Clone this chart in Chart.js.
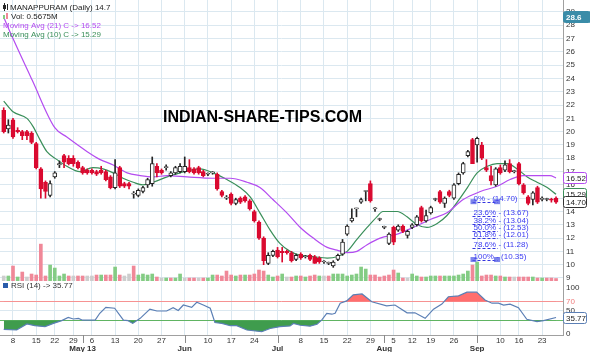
<!DOCTYPE html>
<html>
<head>
<meta charset="utf-8">
<title>MANAPPURAM daily</title>
<script src="https://cdn.jsdelivr.net/npm/chart.js@4.4.1/dist/chart.umd.min.js"></script>
<style>
  html, body { margin: 0; padding: 0; background: #fff; }
  #wrap { position: relative; width: 590px; height: 352px; overflow: hidden; }
  #priceChart { position: absolute; left: 0; top: 0; }
  #rsiChart { position: absolute; left: 0; top: 281px; }
</style>
</head>
<body>
<div id="wrap">
  <canvas id="priceChart" width="590" height="281"></canvas>
  <canvas id="rsiChart" width="590" height="71"></canvas>
</div>
<script>
// ---- data ----
var firstDay = '2013-04-04', lastDay = '2013-09-26';
var holidays = ['2013-04-19', '2013-04-24', '2013-05-01', '2013-08-09', '2013-08-15', '2013-09-09'];
var monthNames = ['Jan','Feb','Mar','Apr','May','Jun','Jul','Aug','Sep','Oct','Nov','Dec'];

var open = [21.6,20.2,20.9,20.1,20.0,20.0,19.9,19.1,17.2,16.2,
  15.2,16.6,17.5,18.2,18.0,18.0,17.7,17.3,17.1,17.1,
  17.0,17.1,17.0,16.6,15.8,17.3,16.1,16.1,15.3,15.2,
  15.5,16.0,16.1,17.4,17.1,17.3,16.7,16.9,17.0,17.0,
  17.3,17.2,17.3,17.0,16.8,16.9,16.8,15.5,15.0,15.3,
  14.6,15.0,15.1,14.8,14.0,13.2,12.0,10.1,10.7,11.1,
  11.0,11.0,10.9,10.4,10.8,10.6,10.7,10.6,10.5,10.2,
  10.1,9.9,10.4,10.8,12.3,13.3,14.2,14.7,15.5,16.1,
  14.2,13.4,12.8,11.6,12.8,12.6,12.9,12.2,12.8,13.0,
  14.3,13.3,13.9,14.9,15.5,14.6,15.5,15.0,16.1,16.9,
  18.2,19.4,19.0,19.0,17.3,16.7,16.0,17.3,17.1,17.6,
  17.0,17.6,16.0,15.1,14.9,15.8,14.9,14.9,14.9,15.0];
var high = [21.8,20.9,21.0,20.3,20.1,20.1,20.0,19.2,17.3,16.3,
  16.3,17.0,17.8,18.3,18.2,18.2,17.8,17.4,17.2,17.2,
  17.1,17.4,17.1,16.7,17.9,17.4,16.2,16.2,15.5,15.7,
  15.9,16.5,18.1,17.6,17.2,17.5,17.0,17.4,17.6,18.1,
  17.9,17.3,17.4,17.1,16.9,17.0,16.9,15.6,15.2,15.4,
  15.0,15.1,15.2,14.9,14.1,13.3,12.1,10.9,11.1,11.3,
  11.3,11.1,11.0,10.8,10.9,10.7,10.8,10.7,10.6,10.3,
  10.2,10.3,10.8,11.9,13.0,14.2,14.25,15.0,15.55,16.3,
  14.3,13.5,12.9,12.4,12.9,13.0,13.0,12.6,13.1,13.7,
  14.4,14.1,14.4,15.0,15.6,15.1,15.6,16.1,16.9,17.7,
  18.6,19.5,19.6,19.2,17.9,17.4,17.3,17.5,17.8,17.9,
  17.1,17.7,16.1,15.2,15.5,15.9,15.1,15.0,15.0,15.1];
var low = [19.9,19.9,19.5,19.9,19.4,19.4,19.1,17.2,15.0,15.0,
  15.1,16.5,17.3,17.3,17.5,17.4,17.2,16.8,16.8,16.8,
  16.7,16.8,16.3,15.7,15.7,15.8,15.8,15.7,15.0,15.1,
  15.4,15.8,15.9,16.6,16.8,17.1,16.6,16.8,16.9,16.9,
  16.9,16.8,16.8,16.6,16.7,16.8,15.6,15.1,14.9,14.5,
  14.5,14.6,14.7,14.1,13.2,11.9,10.0,10.0,10.6,10.5,
  10.2,10.8,10.2,10.3,10.4,10.5,10.3,10.1,10.1,10.1,
  10.0,9.8,10.3,10.7,12.2,13.2,13.6,14.6,14.8,14.7,
  14.0,13.3,12.7,11.5,11.5,12.5,12.4,12.0,12.7,12.9,
  13.2,13.2,13.8,14.8,14.6,14.3,15.1,14.9,16.0,16.8,
  18.1,17.6,17.7,17.9,17.0,16.0,15.9,16.8,17.0,16.9,
  16.9,16.0,15.3,14.5,14.5,14.6,14.8,14.8,14.7,14.6];
var close = [20.0,20.5,19.6,20.0,19.7,19.7,19.2,17.3,15.7,15.5,
  16.1,16.9,17.6,17.7,17.6,17.6,17.3,16.9,16.9,16.9,
  16.8,16.9,16.4,15.8,16.9,15.9,15.9,15.9,15.3,15.6,
  15.8,16.4,17.6,16.9,16.9,17.3,16.9,17.3,17.4,17.4,
  17.0,16.9,16.9,16.7,16.8,16.9,15.7,15.2,15.0,14.6,
  14.9,14.7,14.8,14.2,13.3,12.0,10.3,10.7,11.0,10.6,
  10.9,10.9,10.3,10.7,10.5,10.6,10.4,10.1,10.2,10.2,
  10.1,10.2,10.7,11.7,12.9,13.5,14.2,14.9,15.5,14.8,
  14.2,13.4,12.8,12.3,11.7,12.9,12.5,12.5,13.0,13.6,
  13.3,13.7,14.3,14.9,14.7,15.0,15.2,16.0,16.8,17.6,
  18.5,17.6,19.5,18.0,17.1,16.3,17.2,16.9,17.5,17.0,
  17.0,16.1,15.4,14.6,15.4,14.7,15.0,14.9,14.85,14.7];
// volume, millions
var volume = [1.14,1.14,3.41,0.91,2.04,0.91,1.59,1.36,8.40,1.14,
  3.63,2.95,1.14,1.59,1.14,1.14,1.14,1.14,1.14,1.14,
  1.36,1.36,1.36,1.36,3.18,1.36,1.14,1.59,3.41,1.36,
  1.59,1.36,1.59,0.91,0.68,0.68,0.68,0.68,1.59,0.68,
  0.68,0.68,0.68,0.68,0.68,1.36,1.36,1.14,2.27,1.36,
  1.14,1.36,1.36,1.36,1.59,2.50,2.27,1.36,0.91,1.14,
  1.59,0.91,0.91,1.14,1.14,0.91,1.14,1.36,1.14,1.14,
  1.14,1.59,1.59,1.59,1.14,1.36,1.59,3.18,2.72,1.36,
  1.36,0.91,1.14,1.36,2.50,1.82,0.68,0.68,1.59,1.14,
  0.91,0.91,1.14,1.14,1.14,1.14,1.14,1.14,1.36,1.59,
  2.27,3.63,4.31,1.14,1.36,1.36,1.14,1.14,0.91,0.91,
  0.91,0.91,0.91,0.91,0.91,0.68,0.68,0.68,0.68,0.5675];

// [day index, value]
var ma21 = [[0,28.6],[2,27.0],[6.1,23.9],[11,20.3],[13.6,19.6],[18,18.5],[20.8,17.9],[23.6,17.5],
  [26.6,16.9],[29.4,16.7],[32.2,16.6],[35.2,16.7],[39.5,16.6],[45,16.5],[48.8,16.5],[52.4,16.2],
  [55.2,15.8],[58,14.9],[61,13.9],[63.9,12.8],[66.7,12.0],[69.7,11.3],[71.8,11.1],[74,10.9],
  [76.1,11.0],[78.3,11.5],[81.1,12.0],[84.8,12.3],[88.2,12.8],[91.9,13.4],[95.5,13.9],[99,14.9],
  [102.7,15.5],[106.3,15.9],[109.1,16.4],[111.9,16.7],[114.9,16.7],[117.7,16.7],[119,16.52]];
var ma10 = [[0,22.3],[2,21.5],[5,21.0],[6.3,20.4],[7.8,19.4],[9.3,18.5],[11.5,17.9],[13.6,17.4],
  [16.4,17.0],[19.2,17.3],[21.4,17.2],[23.6,16.9],[25.7,16.5],[27.9,16.2],[30,16.0],[32.2,16.2],
  [35.2,16.6],[38,16.9],[40.2,17.1],[42.3,17.2],[45.1,16.9],[48.1,16.4],[50.9,15.8],[53.1,15.1],
  [55.2,13.9],[57.4,12.6],[59.5,11.6],[61.7,11.0],[63.9,10.7],[66.7,10.6],[69.7,10.5],[71.8,10.6],
  [74,11.0],[76.1,11.9],[78.3,12.8],[80.4,13.6],[81.7,14.0],[84.8,14.0],[86.9,13.6],[89.1,13.0],
  [91.2,12.8],[93.4,13.1],[95.5,13.7],[97.7,14.7],[99.9,15.8],[102,16.9],[104.2,17.4],[106.3,17.6],
  [108.5,17.6],[110.6,17.2],[112.8,16.6],[114.9,16.2],[117.1,15.8],[119,15.29]];
var rsi14 = [[0,10],[2.8,8.7],[5,21.7],[6.7,18],[8.9,16],[10.7,23],[12.5,29],[13.9,36],[15,32.6],
  [16.1,34],[17,30],[19.7,30],[20.7,45],[22,58],[23.9,56],[25.8,30],[26.8,29],[27.8,23],[29.4,34],
  [31.5,54],[33,50],[35.1,50],[36.5,57],[37.6,51],[38.7,63],[40.5,58],[41.6,69],[43,63],[44.5,56],
  [45.5,25],[47,23],[48.8,18],[50.2,18],[52.4,8.7],[55.6,5],[57.4,12],[59.5,16],[61.7,17.5],
  [62.4,23],[63.9,19],[66,17],[67.5,21],[68.5,30],[69.6,45],[70.7,43],[71.4,45],[72.5,67],
  [73.9,72],[75.3,85],[77.2,87],[79.3,70],[82.5,61],[84.3,63],[86.9,46],[88.6,46],[90.8,34],
  [92.6,54],[94.4,65],[95.8,81],[98,83],[99.8,91],[101.9,91],[103.7,74],[105.2,67],[106.6,67],
  [107.7,63],[109.1,65],[110.9,57],[112.7,32],[114.9,27],[116.3,29],[119,35.77]];

var fibNames = ['0%', '23.6%', '38.2%', '50.0%', '61.8%', '78.6%', '100%'];
var fibValues = [14.70, 13.67, 13.04, 12.53, 12.01, 11.28, 10.35];
var fibFrom = 101, fibTo = 106.5;
var topMarker = 28.6;

var priceTicks = [9,10,11,12,13,14,15,16,17,18,19,20,21,22,23,24,25,26,27,28,29];
var rsiTicks = [0, 30, 50, 70, 100];

// ---- trading calendar ----
function tradingDays(from, to, skip) {
  var out = [];
  var d = new Date(from + 'T00:00:00Z'), end = new Date(to + 'T00:00:00Z');
  while (d <= end) {
    var iso = d.toISOString().slice(0, 10), wd = d.getUTCDay();
    if (wd !== 0 && wd !== 6 && skip.indexOf(iso) < 0) out.push(new Date(d));
    d.setUTCDate(d.getUTCDate() + 1);
  }
  return out;
}
var days = tradingDays(firstDay, lastDay, holidays);
var weekTicks = [], monthTicks = [];
days.forEach(function (d, i) {
  if (!i) return;
  var p = days[i - 1];
  if (d.getUTCDay() < p.getUTCDay() || (d - p) > 4 * 864e5) weekTicks.push(i);
  if (d.getUTCMonth() !== p.getUTCMonth()) monthTicks.push(i);
});
var allTicks = weekTicks.concat(monthTicks.filter(function (v) { return weekTicks.indexOf(v) < 0; }))
  .sort(function (a, b) { return a - b; });

// ---- look ----
var FONT = '"Liberation Sans", Arial, sans-serif';
Chart.defaults.font.family = FONT;
Chart.defaults.font.size = 8;
Chart.defaults.color = '#333';
var GRID = '#dbe8f0', AXIS = '#a0a0a0';
var RED = '#da0a30', DARK = '#262626';
var PURPLE = '#b44cf0', GREEN = '#3a8f5a';
var xMin = -0.8, xMax = 120.5;

var candleColor = close.map(function (c, i) { return c < open[i] ? RED : DARK; });
var bodyFill = close.map(function (c, i) { return c < open[i] ? RED : '#fff'; });
var volColor = close.map(function (c, i) {
  if (i === 0 || c === close[i - 1]) return '#cdcdcd';
  return c > close[i - 1] ? '#84cc84' : '#f08898';
});
function pts(a) { return a.map(function (p) { return { x: p[0], y: p[1] }; }); }
function zeroPad(s) { s.paddingTop = 0; s.paddingBottom = 0; s.paddingLeft = 0; s.paddingRight = 0; }

function valueBox(ctx, py, text, stroke, fill, color, w) {
  var y = Math.round(py);
  ctx.beginPath();
  ctx.roundRect(563.5, y - 5.5, w, 11, 2);
  ctx.fillStyle = fill; ctx.fill();
  ctx.strokeStyle = stroke; ctx.lineWidth = 1; ctx.stroke();
  ctx.fillStyle = color;
  ctx.textAlign = 'left'; ctx.textBaseline = 'middle';
  ctx.fillText(text, 566, y + 0.5);
}

var last = close.length - 1;

var priceDecor = {
  id: 'priceDecor',
  beforeDatasetsDraw: function (chart) {
    var ctx = chart.ctx;
    ctx.save();
    ctx.font = 'bold 16px ' + FONT;
    ctx.fillStyle = '#000';
    ctx.textBaseline = 'middle';
    ctx.fillText('INDIAN-SHARE-TIPS.COM', 163, 118);
    ctx.restore();
  },
  afterDraw: function (chart) {
    var ctx = chart.ctx, xs = chart.scales.x, ys = chart.scales.y;
    ctx.save();
    // fibonacci levels
    var x1 = xs.getPixelForValue(fibFrom), x2 = xs.getPixelForValue(fibTo);
    ctx.strokeStyle = '#3434e0'; ctx.lineWidth = 1; ctx.setLineDash([3, 2]);
    fibValues.forEach(function (v) {
      var py = Math.round(ys.getPixelForValue(v)) + 0.5;
      ctx.beginPath(); ctx.moveTo(x1, py); ctx.lineTo(x2, py); ctx.stroke();
    });
    ctx.setLineDash([]);
    ctx.fillStyle = 'rgba(80,90,230,0.75)';
    [fibValues[0], fibValues[fibValues.length - 1]].forEach(function (v) {
      var py = ys.getPixelForValue(v);
      ctx.fillRect(x1 - 2, py - 3, 6, 5);
      ctx.fillRect(x2 - 4, py - 3, 6, 5);
    });
    ctx.font = '8px ' + FONT; ctx.fillStyle = '#3b3bf2'; ctx.textBaseline = 'alphabetic'; ctx.textAlign = 'left';
    fibValues.forEach(function (v, k) {
      ctx.fillText(fibNames[k] + ' - (' + v.toFixed(2) + ')', x1 + 1, ys.getPixelForValue(v) - 1);
    });

    // legend
    ctx.fillStyle = DARK;
    ctx.fillRect(4, 3, 1, 8); ctx.fillRect(3, 5, 3, 4); ctx.fillRect(7, 4, 1, 6);
    ctx.fillStyle = '#84cc84'; ctx.fillRect(3, 15, 2, 4);
    ctx.fillStyle = '#f08898'; ctx.fillRect(6, 13, 2, 6);
    ctx.font = '8px ' + FONT; ctx.textBaseline = 'middle';
    ctx.fillStyle = '#222';
    ctx.fillText('MANAPPURAM (Daily) ' + close[last], 10, 7.5);
    ctx.fillText('Vol: ' + volume[last] + 'M', 11, 16.5);
    ctx.fillStyle = PURPLE;
    ctx.fillText('Moving Avg (21) C -> ' + ma21[ma21.length - 1][1].toFixed(2), 3, 26);
    ctx.fillStyle = GREEN;
    ctx.fillText('Moving Avg (10) C -> ' + ma10[ma10.length - 1][1].toFixed(2), 3, 35);

    // axis value tags
    ctx.font = 'bold 8px ' + FONT;
    valueBox(ctx, ys.getPixelForValue(topMarker), topMarker.toFixed(1), '#3a8ca8', '#3a8ca8', '#fff', 27);
    ctx.font = '8px ' + FONT;
    valueBox(ctx, ys.getPixelForValue(ma21[ma21.length - 1][1]), ma21[ma21.length - 1][1].toFixed(2), PURPLE, '#fff', '#222', 23);
    valueBox(ctx, ys.getPixelForValue(ma10[ma10.length - 1][1]), ma10[ma10.length - 1][1].toFixed(2), GREEN, '#fff', '#222', 23);
    valueBox(ctx, ys.getPixelForValue(close[last]), close[last].toFixed(2), '#333', '#fff', '#222', 23);
    ctx.restore();
  }
};

new Chart(document.getElementById('priceChart'), {
  type: 'bar',
  data: {
    datasets: [
      {
        type: 'bar', data: days.map(function (d, i) { return { x: i, y: [open[i], close[i]] }; }),
        backgroundColor: bodyFill, borderColor: candleColor, borderWidth: 1, borderSkipped: false,
        barThickness: 4, minBarLength: 1, grouped: false, order: 1
      },
      {
        type: 'bar', data: days.map(function (d, i) { return { x: i, y: [low[i], high[i]] }; }),
        backgroundColor: candleColor, barThickness: 1, grouped: false, order: 2
      },
      {
        type: 'line', data: pts(ma21), borderColor: PURPLE, borderWidth: 1.2, pointRadius: 0,
        cubicInterpolationMode: 'monotone', order: 3
      },
      {
        type: 'line', data: pts(ma10), borderColor: GREEN, borderWidth: 1.2, pointRadius: 0,
        cubicInterpolationMode: 'monotone', order: 4
      },
      {
        type: 'bar', yAxisID: 'yv', data: days.map(function (d, i) { return { x: i, y: volume[i] }; }),
        backgroundColor: volColor, barThickness: 3, grouped: false, order: 6
      }
    ]
  },
  options: {
    responsive: false, animation: false,
    layout: { padding: 0 },
    plugins: { legend: { display: false }, tooltip: { enabled: false } },
    scales: {
      x: {
        type: 'linear', min: xMin, max: xMax, offset: false,
        afterBuildTicks: function (s) { s.ticks = weekTicks.map(function (v) { return { value: v }; }); },
        ticks: { display: false },
        grid: { color: GRID, drawTicks: false, offset: false },
        border: { display: true, color: AXIS },
        afterFit: function (s) { s.height = 0; zeroPad(s); }
      },
      y: {
        position: 'right', min: 8.774, max: 29.9,
        afterBuildTicks: function (s) { s.ticks = priceTicks.map(function (v) { return { value: v }; }); },
        ticks: { color: '#333', padding: 3, font: { size: 8 } },
        grid: { color: GRID, drawTicks: false },
        border: { color: AXIS },
        afterFit: function (s) { s.width = 27; zeroPad(s); }
      },
      yv: { display: false, min: 0, max: 64 }
    }
  },
  plugins: [priceDecor]
});

var rsiDecor = {
  id: 'rsiDecor',
  afterDraw: function (chart) {
    var ctx = chart.ctx, xs = chart.scales.x, ys = chart.scales.y, a = chart.chartArea;
    ctx.save();
    ctx.strokeStyle = '#8a8a8a'; ctx.lineWidth = 1;
    monthTicks.forEach(function (i) {
      var px = Math.round(xs.getPixelForValue(i)) + 0.5;
      ctx.beginPath(); ctx.moveTo(px, a.bottom); ctx.lineTo(px, a.bottom + 8); ctx.stroke();
    });
    ctx.fillStyle = '#2a5caa'; ctx.fillRect(3, 2, 5, 5);
    ctx.font = '8px ' + FONT; ctx.fillStyle = '#333'; ctx.textBaseline = 'middle'; ctx.textAlign = 'left';
    var lastRsi = rsi14[rsi14.length - 1][1];
    ctx.fillText('RSI (14) -> ' + lastRsi.toFixed(2), 11, 4.5);
    valueBox(ctx, ys.getPixelForValue(lastRsi), lastRsi.toFixed(2), '#5b7fb5', '#fff', '#222', 23);
    ctx.restore();
  }
};

new Chart(document.getElementById('rsiChart'), {
  type: 'line',
  data: {
    datasets: [
      {
        data: pts(rsi14), borderColor: '#5b7fb5', borderWidth: 1.2, pointRadius: 0, tension: 0,
        fill: { target: { value: 70 }, above: '#ff6e6e', below: 'rgba(0,0,0,0)' }, order: 1
      },
      {
        data: pts(rsi14), borderWidth: 0, pointRadius: 0, tension: 0,
        fill: { target: { value: 30 }, above: 'rgba(0,0,0,0)', below: '#3f9c4d' }, order: 2
      }
    ]
  },
  options: {
    responsive: false, animation: false,
    layout: { padding: 0 },
    plugins: { legend: { display: false }, tooltip: { enabled: false } },
    scales: {
      x: {
        type: 'linear', min: xMin, max: xMax, offset: false,
        afterBuildTicks: function (s) { s.ticks = allTicks.map(function (v) { return { value: v }; }); },
        ticks: {
          autoSkip: false, maxRotation: 0, minRotation: 0, padding: 2, color: '#333',
          font: function (c) {
            var m = c.tick && monthTicks.indexOf(c.tick.value) >= 0;
            return { size: 8, weight: m ? 'bold' : 'normal', lineHeight: 1.0 };
          },
          callback: function (v) {
            var k = monthTicks.indexOf(v);
            if (k >= 0) return ['', monthNames[days[v].getUTCMonth()] + (k === 0 ? ' ' + String(days[v].getUTCFullYear()).slice(2) : '')];
            return [String(days[v].getUTCDate())];
          }
        },
        grid: {
          drawTicks: false, offset: false,
          color: function (c) { return c.tick && weekTicks.indexOf(c.tick.value) >= 0 ? GRID : 'rgba(0,0,0,0)'; }
        },
        border: { display: true, color: AXIS },
        afterFit: function (s) { s.height = 17; zeroPad(s); }
      },
      y: {
        position: 'right', min: -2.2, max: 115.2,
        afterBuildTicks: function (s) { s.ticks = rsiTicks.map(function (v) { return { value: v }; }); },
        ticks: {
          padding: 3, font: { size: 8 },
          color: function (c) { return c.tick && c.tick.value === 70 ? '#f07c7c' : '#333'; }
        },
        grid: {
          drawTicks: false,
          color: function (c) {
            var v = c.tick && c.tick.value;
            if (v === 70) return '#f49a9a';
            if (v === 30) return '#68bb68';
            if (v === 50) return GRID;
            return 'rgba(0,0,0,0)';
          }
        },
        border: { color: AXIS },
        afterFit: function (s) { s.width = 27; zeroPad(s); }
      }
    }
  },
  plugins: [rsiDecor]
});
</script>
</body>
</html>
